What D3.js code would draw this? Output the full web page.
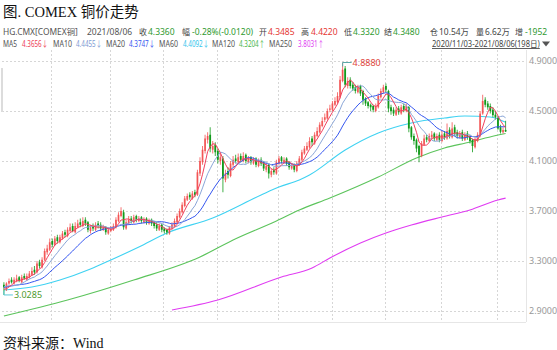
<!DOCTYPE html>
<html><head><meta charset="utf-8">
<script src="https://cdn.jsdelivr.net/npm/d3@7/dist/d3.min.js"></script>
<style>body{margin:0;background:#fff}svg{display:block}</style>
</head><body><svg id="chart" width="557" height="350"></svg>
<script>
// COMEX copper (HG.CMX) daily candles, 2020/11/03 - 2021/08/06, 198 trading days
const opens = [
3.11,3.08,3.12,3.15,3.12,3.14,3.17,3.13,3.18,3.15,
3.17,3.19,3.23,3.21,3.29,3.25,3.31,3.37,3.39,3.46,
3.43,3.49,3.45,3.48,3.53,3.50,3.54,3.58,3.53,3.57,
3.61,3.58,3.63,3.61,3.54,3.58,3.55,3.60,3.59,3.55,
3.57,3.52,3.54,3.55,3.57,3.62,3.66,3.69,3.56,3.60,
3.64,3.61,3.66,3.62,3.65,3.61,3.64,3.60,3.63,3.61,
3.59,3.55,3.59,3.56,3.55,3.52,3.56,3.58,3.61,3.65,
3.69,3.74,3.79,3.83,3.80,3.85,3.83,4.00,4.09,4.18,
4.27,4.31,4.19,4.23,4.18,4.10,4.12,3.95,4.02,3.98,
4.07,4.12,4.09,4.14,4.10,4.15,4.09,4.13,4.08,4.12,
4.06,4.11,4.09,4.03,4.07,3.99,4.03,4.00,4.08,4.13,
4.09,4.12,4.09,4.04,4.07,4.02,4.07,4.11,4.16,4.19,
4.21,4.28,4.24,4.30,4.33,4.38,4.43,4.44,4.51,4.51,
4.55,4.57,4.61,4.74,4.84,4.70,4.75,4.71,4.69,4.65,
4.70,4.66,4.60,4.57,4.55,4.54,4.50,4.53,4.61,4.65,
4.70,4.66,4.53,4.51,4.47,4.52,4.48,4.54,4.50,4.53,
4.37,4.30,4.27,4.22,4.14,4.23,4.29,4.26,4.29,4.32,
4.27,4.31,4.26,4.32,4.28,4.35,4.29,4.37,4.33,4.29,
4.33,4.27,4.32,4.30,4.27,4.21,4.26,4.30,4.48,4.59,
4.56,4.54,4.51,4.47,4.45,4.37,4.33,4.3485];
const highs = [
3.13,3.13,3.16,3.17,3.17,3.19,3.18,3.19,3.20,3.20,
3.22,3.25,3.26,3.30,3.31,3.33,3.40,3.43,3.48,3.48,
3.50,3.51,3.51,3.54,3.55,3.57,3.60,3.60,3.61,3.63,
3.64,3.65,3.65,3.62,3.59,3.60,3.61,3.62,3.61,3.59,
3.58,3.57,3.58,3.60,3.65,3.69,3.73,3.71,3.63,3.66,
3.66,3.67,3.67,3.66,3.66,3.65,3.65,3.64,3.64,3.62,
3.61,3.60,3.60,3.57,3.56,3.58,3.61,3.64,3.68,3.72,
3.77,3.82,3.84,3.85,3.86,3.87,4.03,4.13,4.22,4.31,
4.33,4.37,4.26,4.25,4.20,4.16,4.14,4.03,4.05,4.10,
4.14,4.15,4.16,4.16,4.17,4.16,4.14,4.14,4.13,4.13,
4.12,4.13,4.10,4.08,4.08,4.04,4.05,4.11,4.14,4.14,
4.13,4.13,4.10,4.08,4.08,4.10,4.14,4.19,4.22,4.25,
4.29,4.30,4.33,4.37,4.41,4.45,4.48,4.52,4.55,4.58,
4.61,4.65,4.78,4.888,4.86,4.77,4.77,4.73,4.71,4.71,
4.71,4.67,4.61,4.58,4.56,4.55,4.56,4.64,4.68,4.71,
4.72,4.67,4.55,4.53,4.53,4.54,4.55,4.56,4.56,4.54,
4.38,4.32,4.28,4.23,4.26,4.31,4.31,4.32,4.34,4.33,
4.32,4.33,4.34,4.34,4.40,4.37,4.41,4.39,4.35,4.34,
4.35,4.33,4.34,4.31,4.28,4.29,4.33,4.50,4.63,4.61,
4.58,4.56,4.53,4.50,4.46,4.39,4.37,4.422];
const lows = [
3.0285,3.06,3.11,3.12,3.11,3.13,3.13,3.12,3.15,3.14,
3.16,3.18,3.19,3.20,3.24,3.24,3.30,3.35,3.38,3.41,
3.42,3.44,3.44,3.47,3.49,3.49,3.53,3.53,3.52,3.56,
3.57,3.57,3.58,3.53,3.52,3.54,3.54,3.56,3.54,3.54,
3.51,3.51,3.53,3.54,3.56,3.61,3.65,3.55,3.55,3.59,
3.60,3.60,3.61,3.61,3.60,3.60,3.59,3.59,3.58,3.56,
3.54,3.54,3.53,3.52,3.51,3.51,3.55,3.57,3.60,3.64,
3.68,3.73,3.78,3.79,3.79,3.81,3.82,3.98,4.07,4.16,
4.24,4.17,4.16,4.14,4.08,4.07,3.85,3.93,3.96,3.97,
4.05,4.08,4.08,4.09,4.09,4.08,4.08,4.07,4.07,4.05,
4.05,4.06,4.02,4.01,3.96,3.97,3.99,3.99,4.07,4.08,
4.08,4.06,4.03,4.03,4.01,4.01,4.06,4.10,4.15,4.18,
4.20,4.22,4.23,4.29,4.32,4.37,4.41,4.43,4.49,4.50,
4.54,4.56,4.60,4.73,4.69,4.68,4.68,4.66,4.64,4.64,
4.62,4.55,4.54,4.52,4.50,4.49,4.49,4.52,4.60,4.64,
4.65,4.49,4.47,4.46,4.46,4.47,4.47,4.49,4.49,4.33,
4.27,4.23,4.17,4.09,4.13,4.22,4.25,4.25,4.27,4.26,
4.26,4.25,4.25,4.27,4.27,4.28,4.28,4.30,4.28,4.28,
4.26,4.26,4.27,4.24,4.17,4.20,4.25,4.29,4.47,4.53,
4.51,4.48,4.45,4.43,4.35,4.32,4.32,4.332];
const closes = [
3.09,3.12,3.14,3.13,3.15,3.16,3.14,3.17,3.16,3.18,
3.20,3.22,3.21,3.28,3.26,3.31,3.38,3.40,3.45,3.43,
3.48,3.46,3.49,3.52,3.51,3.55,3.57,3.54,3.58,3.60,
3.59,3.62,3.60,3.55,3.57,3.56,3.59,3.58,3.56,3.57,
3.53,3.55,3.56,3.58,3.63,3.67,3.70,3.57,3.61,3.63,
3.62,3.65,3.63,3.64,3.62,3.63,3.61,3.62,3.60,3.58,
3.56,3.58,3.55,3.54,3.53,3.57,3.59,3.62,3.66,3.70,
3.75,3.80,3.82,3.81,3.84,3.83,4.01,4.10,4.19,4.28,
4.30,4.20,4.22,4.17,4.11,4.13,3.96,4.00,3.99,4.08,
4.11,4.10,4.13,4.11,4.14,4.10,4.12,4.09,4.11,4.07,
4.10,4.08,4.04,4.06,4.00,4.02,4.01,4.09,4.12,4.10,
4.11,4.08,4.05,4.06,4.03,4.08,4.12,4.17,4.20,4.22,
4.26,4.25,4.31,4.34,4.39,4.42,4.45,4.50,4.52,4.56,
4.58,4.62,4.75,4.83,4.71,4.74,4.70,4.68,4.66,4.69,
4.64,4.59,4.56,4.54,4.53,4.51,4.54,4.62,4.66,4.69,
4.67,4.52,4.50,4.48,4.51,4.49,4.53,4.51,4.54,4.36,
4.29,4.26,4.20,4.15,4.24,4.28,4.27,4.30,4.31,4.28,
4.30,4.27,4.31,4.29,4.34,4.30,4.36,4.32,4.30,4.32,
4.28,4.31,4.29,4.26,4.22,4.27,4.31,4.479,4.58,4.55,
4.53,4.50,4.467,4.45,4.36,4.334,4.348,4.336];
// October 2020 closes, only used to seed the short moving averages
const closesBefore = [3.04,3.06,3.05,3.08,3.10,3.09,3.11,3.12,3.10,3.09,3.08,3.10,3.13,3.14,3.12,3.10,3.07,3.05,3.06];

// long moving averages, sampled by trading-day index
const ma60Idx  = [0,11,22,34,42,53,64,82,101,108,116,120,134,147,160,173,181,191,197];
const ma60Val  = [3.068,3.092,3.148,3.236,3.308,3.412,3.524,3.644,3.828,3.892,3.948,3.988,4.188,4.324,4.404,4.444,4.460,4.452,4.4092];
const ma120Idx = [0,25,51,77,90,107,116,128,147,162,173,183,189,197];
const ma120Val = [2.860,2.988,3.148,3.332,3.468,3.620,3.708,3.804,3.972,4.124,4.204,4.252,4.284,4.3204];
const ma250Idx = [66,84,109,121,128,140,150,160,172,183,194,197];
const ma250Val = [2.908,2.988,3.172,3.244,3.324,3.444,3.524,3.588,3.652,3.708,3.788,3.8031];

// first trading day of each month (Dec 2020 .. Aug 2021)
const monthStartIdx = [19,42,63,84,108,129,150,172,194];
const yTicks = [2.9,3.3,3.7,4.1,4.5,4.9];

// quote strip: text, x, width, colour
const quote = [
  ["HG.CMX[COMEX铜]", 3, 75, "#555"], ["2021/08/06", 87, 46, "#555"],
  ["收", 139, 8, "#444"], ["4.3360", 148, 27, "#2f9a2f"],
  ["幅", 182, 8, "#444"], ["-0.28%(-0.0120)", 192, 63, "#2f9a2f"],
  ["开", 259, 8, "#444"], ["4.3485", 268, 27, "#e53935"],
  ["高", 301, 8, "#444"], ["4.4220", 311, 28, "#e53935"],
  ["低", 344, 8, "#444"], ["4.3320", 353, 27, "#2f9a2f"],
  ["结", 384, 8, "#444"], ["4.3480", 393, 28, "#2f9a2f"],
  ["仓", 430, 8, "#444"], ["10.54万", 439, 30, "#444"],
  ["量", 476, 8, "#444"], ["6.62万", 485, 25, "#444"],
  ["增", 515, 8, "#444"], ["-1952", 525, 25, "#2f9a2f"]
];
// moving-average legend: name, x, width, value, x, width, colour
const maLegend = [
  ["MA5", 3, 14, "4.3656↓", 22, 26, "#ee3b55"],
  ["MA10", 53, 19, "4.4455↓", 76, 26, "#7d9bd3"],
  ["MA20", 106, 19, "4.3747↓", 129, 26, "#3556f0"],
  ["MA60", 159, 19, "4.4092↓", 183, 26, "#34c4ec"],
  ["MA120", 212, 23, "4.3204↑", 239, 26, "#4cb74c"],
  ["MA250", 269, 23, "3.8031↑", 298, 26, "#e03cf2"]
];

const svg = d3.select("#chart");
const plot = {left: 2, right: 526, top: 50, bottom: 322};

const x = d3.scaleBand().domain(d3.range(closes.length)).range([3, 506.5]).paddingInner(0.3);
const y = d3.scaleLinear().domain([2.9, 4.9]).range([311, 61]);
const cx = i => x(i) + x.bandwidth() / 2;
const sans = "'Noto Sans','Noto Sans CJK SC',sans-serif";
const serif = "'Liberation Serif','Noto Sans CJK SC',serif";

// compact quote-bar text: squeezed horizontally to the given width
const fitText = (g, t, px, py, w, c) => {
  const node = g.append("text").attr("fill", c).attr("transform", `translate(${px},${py})`).text(t);
  const natural = node.node().getComputedTextLength();
  node.attr("transform", `translate(${px},${py}) scale(${Math.min(1, w / natural)},1)`);
  return node;
};

// title
svg.append("text").attr("x", 3).attr("y", 17).attr("font-family", serif).attr("font-size", 14.5)
  .attr("fill", "#111").text("图. COMEX 铜价走势");

// quote line
const q = svg.append("g").attr("font-family", sans).attr("font-size", 8.5);
quote.forEach(([t, px, w, c]) => fitText(q, t, px, 35, w, c));

// moving-average legend
const lg = svg.append("g").attr("font-family", sans).attr("font-size", 8.5);
maLegend.forEach(([n, nx, nw, v, vx, vw, c]) => {
  fitText(lg, n, nx, 47, nw, "#555");
  fitText(lg, v, vx, 47, vw, c);
});
fitText(lg, "2020/11/03-2021/08/06(198日)", 432, 47, 108, "#444").attr("text-decoration", "underline");
lg.append("path").attr("d", "M542,41.5h8l-4,5z").attr("fill", "#555");

// grid
const grid = svg.append("g").attr("stroke", "#d6d6d6").attr("stroke-width", 1).attr("stroke-dasharray", "2,2");
grid.selectAll("line.h").data(yTicks).join("line")
  .attr("x1", plot.left).attr("x2", plot.right)
  .attr("y1", d => Math.round(y(d)) + 0.5).attr("y2", d => Math.round(y(d)) + 0.5);
grid.selectAll("line.v").data(monthStartIdx).join("line")
  .attr("x1", d => Math.round(x(d)) + 0.5).attr("x2", d => Math.round(x(d)) + 0.5)
  .attr("y1", plot.top).attr("y2", plot.bottom);

// frame
svg.append("line").attr("x1", plot.right + 0.5).attr("x2", plot.right + 0.5)
  .attr("y1", plot.top).attr("y2", plot.bottom).attr("stroke", "#e6e6e6");
svg.append("line").attr("x1", 0).attr("x2", plot.right).attr("y1", plot.bottom + 0.5).attr("y2", plot.bottom + 0.5)
  .attr("stroke", "#e6e6e6");
svg.append("rect").attr("x", 1).attr("y", 68).attr("width", 2).attr("height", 44).attr("fill", "#dcdcdc");

// right axis
const yAxis = d3.axisRight(y).tickValues(yTicks).tickFormat(d3.format(".4f")).tickSize(0).tickPadding(0);
const ax = svg.append("g").attr("transform", `translate(${plot.right + 3},0)`).call(yAxis);
ax.select(".domain").remove();
ax.selectAll("text").attr("font-family", sans).attr("font-size", 9).attr("fill", "#999");

// long moving averages
const sampled = (idx, val) => idx.map((d, k) => [d, val[k]]);
const lineS = d3.line().x(d => cx(d[0])).y(d => y(d[1])).curve(d3.curveMonotoneX);
[[ma250Idx, ma250Val, "#e03cf2"], [ma120Idx, ma120Val, "#5cc45c"], [ma60Idx, ma60Val, "#3fd2f2"]]
  .forEach(([i, v, c]) => svg.append("path").attr("d", lineS(sampled(i, v)))
    .attr("fill", "none").attr("stroke", c).attr("stroke-width", 1.1));

// candles
const up = "#f24f4f", down = "#119a1b";
const cg = svg.append("g");
closes.forEach((c, i) => {
  const o = opens[i], col = c >= o ? up : down;
  cg.append("line").attr("x1", cx(i)).attr("x2", cx(i)).attr("y1", y(highs[i])).attr("y2", y(lows[i]))
    .attr("stroke", col).attr("stroke-width", 0.8);
  const top = y(Math.max(o, c)), h = Math.max(1, Math.abs(y(o) - y(c)));
  cg.append("rect").attr("x", x(i)).attr("y", top).attr("width", x.bandwidth()).attr("height", h)
    .attr("fill", col).attr("opacity", c >= o ? 0.85 : 1);
});

// short moving averages from closing prices
const series = closesBefore.concat(closes);
const movingAvg = n => closes.map((_, i) => {
  const j = i + closesBefore.length;
  return d3.mean(series.slice(Math.max(0, j - n + 1), j + 1));
});
const lineC = d3.line().x((d, i) => cx(i)).y(d => y(d));
[[20, "#3556f0"], [10, "#8aa6d8"], [5, "#f0415e"]].forEach(([n, c]) =>
  svg.append("path").attr("d", lineC(movingAvg(n))).attr("fill", "none").attr("stroke", c).attr("stroke-width", 1));

// extreme-price markers
const hiIdx = d3.maxIndex(highs), loIdx = d3.minIndex(lows);
svg.append("path").attr("d", `M${cx(hiIdx)},${y(highs[hiIdx]) + 4}V${y(highs[hiIdx])}h9`)
  .attr("fill", "none").attr("stroke", "#5aa8a8").attr("stroke-width", 1);
svg.append("text").attr("x", cx(hiIdx) + 10).attr("y", y(highs[hiIdx]) + 3.5).attr("font-family", sans)
  .attr("font-size", 9).attr("fill", "#e0463c").text(d3.format(".4f")(highs[hiIdx]));
svg.append("path").attr("d", `M${cx(loIdx)},${y(lows[loIdx]) - 4}V${y(lows[loIdx])}h9`)
  .attr("fill", "none").attr("stroke", "#5ac8d8").attr("stroke-width", 1);
svg.append("text").attr("x", cx(loIdx) + 10).attr("y", y(lows[loIdx]) + 3.5).attr("font-family", sans)
  .attr("font-size", 9).attr("fill", "#4e9a2e").text(d3.format(".4f")(lows[loIdx]));

// source
svg.append("text").attr("x", 3).attr("y", 348).attr("font-family", serif).attr("font-size", 14)
  .attr("fill", "#111").text("资料来源：Wind");
</script></body></html>
